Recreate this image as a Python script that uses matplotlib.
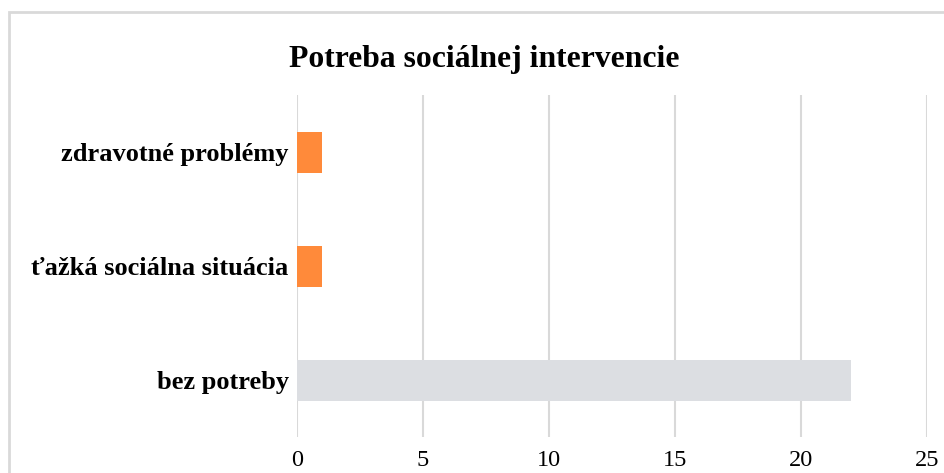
import matplotlib.pyplot as plt
from matplotlib.patches import Rectangle

categories = ['bez potreby', 'ťažká sociálna situácia', 'zdravotné problémy']
values = [22, 1, 1]
colors = ['#dcdee2', '#ff8a3a', '#ff8a3a']
xticks = [0, 5, 10, 15, 20, 25]

plt.rcParams['font.family'] = ['Liberation Serif', 'DejaVu Serif']

fig = plt.figure(figsize=(9.44, 4.73), dpi=100)
ax = fig.add_axes([0.3146, 0.0761, 0.6674, 0.7229])

# rámik okolo grafu
fig.patches.append(Rectangle((9 / 944, -0.1), 1.2, 1 - 12 / 473 + 0.1,
                             transform=fig.transFigure, fill=False,
                             edgecolor='#d9d9d9', linewidth=2))

y = range(len(categories))
ax.barh(y, values, height=0.36, color=colors, zorder=3)

ax.set_xlim(0, 25)
ax.set_ylim(-0.5, len(categories) - 0.5)
ax.set_xticks(xticks)
ax.set_xticklabels([str(t) for t in xticks], fontsize=17.5)
ax.set_yticks(list(y))
ax.set_yticklabels(categories, fontsize=19, fontweight='bold')
ax.tick_params(length=0, pad=6)
ax.tick_params(axis='x', pad=9)
ax.grid(axis='x', color='#d9d9d9', linewidth=1.5, zorder=0)
for s in ax.spines.values():
    s.set_visible(False)

fig.text(484 / 944, 1 - 60 / 473, 'Potreba sociálnej intervencie',
         ha='center', va='center', fontsize=22.8, fontweight='bold')

fig.savefig('out.png', dpi=100)
